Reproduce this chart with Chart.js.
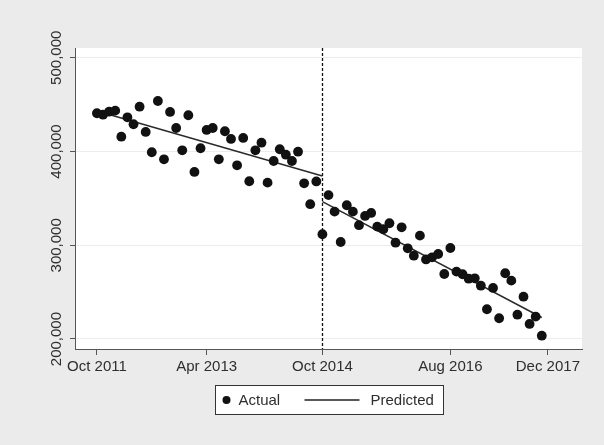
<!DOCTYPE html>
<html>
<head>
<meta charset="utf-8">
<script src="https://cdn.jsdelivr.net/npm/chart.js@4/dist/chart.umd.min.js"></script>
<style>
  html, body { margin: 0; padding: 0; background: #ebebeb; }
  #wrap { width: 604px; height: 445px; }
</style>
</head>
<body>
<div id="wrap"><canvas id="c" width="604" height="445"></canvas></div>
<script>
// Monthly observations, period 0 = first month of the series
const actual = [
  440700, 439200, 442400, 443500, 415700, 436400, 429000, 447700, 420800, 399100,
  453800, 391600, 442100, 425000, 401200, 438600, 378100, 403400, 422900, 425000,
  391600, 421500, 413300, 385200, 414400, 368200, 401200, 409300, 366700, 389800,
  402300, 396500, 389800, 399700, 366000, 343700, 368000, 311700, 353400, 335800,
  303400, 342600, 335800, 321300, 331200, 334400, 319800, 317000, 323400, 302700,
  319100, 296700, 288800, 310200, 284800, 287100, 290600, 269300, 297000, 271800,
  269000, 264300, 264700, 256800, 231700, 254400, 222100, 270100, 262200, 225900,
  245100, 216000, 223800, 203500
];

// Fitted trend, before and after the break (end points of each segment)
const predictedBeforePeriods = [0, 37];
const predictedBefore = [443200, 373800];
const predictedAfterPeriods = [37, 73];
const predictedAfter = [346500, 222900];

const breakPeriod = 37;

const xTickPeriods = [0, 18, 37, 58, 74];
const xTickLabels = ['Oct 2011', 'Apr 2013', 'Oct 2014', 'Aug 2016', 'Dec 2017'];
const yTickValues = [200000, 300000, 400000, 500000];

const toPoints = (xs, ys) => ys.map((y, i) => ({ x: xs[i], y }));

const FONT = '"Liberation Sans", Arial, Helvetica, sans-serif';
const TEXT = '#2e2e2e';
const AXIS = '#555555';

const backgroundPlugin = {
  id: 'panelBackground',
  beforeDraw(chart) {
    const { ctx, chartArea: a } = chart;
    ctx.save();
    ctx.fillStyle = '#ebebeb';
    ctx.fillRect(0, 0, chart.width, chart.height);
    ctx.fillStyle = '#ffffff';
    ctx.fillRect(a.left, a.top, a.right - a.left, a.bottom - a.top);
    ctx.restore();
  }
};

const breakLinePlugin = {
  id: 'breakLine',
  afterDatasetsDraw(chart) {
    const { ctx, chartArea: a, scales } = chart;
    const x = Math.round(scales.x.getPixelForValue(breakPeriod)) + 0.5;
    ctx.save();
    ctx.strokeStyle = '#111111';
    ctx.lineWidth = 1.3;
    ctx.setLineDash([3, 2]);
    ctx.beginPath();
    ctx.moveTo(x, a.top);
    ctx.lineTo(x, a.bottom);
    ctx.stroke();
    ctx.restore();
  }
};

const legendBoxPlugin = {
  id: 'legendBox',
  afterDraw(chart) {
    const { ctx, chartArea: a } = chart;
    const ds = chart.data.datasets;
    const cx = (a.left + a.right) / 2;
    const w = 228, h = 29;
    const left = Math.round(cx - w / 2) + 0.5;
    const top = Math.round(a.bottom + 36) + 0.5;
    const cy = top + h / 2;
    ctx.save();
    ctx.fillStyle = '#ffffff';
    ctx.fillRect(left, top, w, h);
    ctx.strokeStyle = '#333333';
    ctx.lineWidth = 1;
    ctx.strokeRect(left, top, w, h);

    // marker for the observed series
    ctx.fillStyle = '#111111';
    ctx.beginPath();
    ctx.arc(left + 11, cy, 4, 0, Math.PI * 2);
    ctx.fill();

    ctx.font = '15px ' + FONT;
    ctx.fillStyle = TEXT;
    ctx.textBaseline = 'middle';
    ctx.textAlign = 'left';
    ctx.fillText(ds[0].label, left + 23, cy + 1);

    // line sample for the fitted series
    ctx.strokeStyle = '#222222';
    ctx.lineWidth = 1.5;
    ctx.beginPath();
    ctx.moveTo(left + 89, cy);
    ctx.lineTo(left + 144, cy);
    ctx.stroke();
    ctx.fillText(ds[1].label, left + 155, cy + 1);
    ctx.restore();
  }
};

new Chart(document.getElementById('c'), {
  type: 'line',
  data: {
    datasets: [
      {
        label: 'Actual',
        data: toPoints(actual.map((_, i) => i), actual),
        showLine: false,
        pointRadius: 4.9,
        pointBackgroundColor: '#111111',
        pointBorderColor: '#111111',
        pointBorderWidth: 0,
        order: 1
      },
      {
        label: 'Predicted',
        data: toPoints(predictedBeforePeriods, predictedBefore),
        borderColor: '#2a2a2a',
        borderWidth: 1.5,
        pointRadius: 0,
        fill: false,
        order: 2
      },
      {
        label: 'Predicted (after)',
        data: toPoints(predictedAfterPeriods, predictedAfter),
        borderColor: '#2a2a2a',
        borderWidth: 1.5,
        pointRadius: 0,
        fill: false,
        order: 2
      }
    ]
  },
  options: {
    responsive: false,
    devicePixelRatio: 1,
    animation: false,
    layout: { padding: { left: 0, top: 48, right: 22, bottom: 60 } },
    plugins: {
      legend: { display: false },
      tooltip: { enabled: false }
    },
    scales: {
      x: {
        type: 'linear',
        min: -3.6,
        max: 79.6,
        afterBuildTicks(scale) {
          scale.ticks = xTickPeriods.map(v => ({ value: v }));
        },
        afterFit(scale) { scale.height = 36; },
        grid: {
          drawOnChartArea: false,
          drawTicks: true,
          tickLength: 6,
          tickColor: AXIS
        },
        border: { color: AXIS, width: 1 },
        ticks: {
          autoSkip: false,
          maxRotation: 0,
          padding: 3,
          color: TEXT,
          font: { family: FONT, size: 15 },
          callback(value) {
            const i = xTickPeriods.indexOf(value);
            return i >= 0 ? xTickLabels[i] : '';
          }
        }
      },
      y: {
        type: 'linear',
        min: 189300,
        max: 510300,
        afterBuildTicks(scale) {
          scale.ticks = yTickValues.map(v => ({ value: v }));
        },
        afterFit(scale) { scale.width = 75; },
        grid: {
          color: '#ececec',
          lineWidth: 1,
          drawTicks: true,
          tickLength: 5,
          tickColor: AXIS
        },
        border: { color: AXIS, width: 1 },
        ticks: {
          minRotation: 90,
          maxRotation: 90,
          padding: 13,
          labelOffset: -27,
          color: TEXT,
          font: { family: FONT, size: 15 },
          callback(value) { return value.toLocaleString('en-US'); }
        }
      }
    }
  },
  plugins: [backgroundPlugin, breakLinePlugin, legendBoxPlugin]
});
</script>
</body>
</html>
